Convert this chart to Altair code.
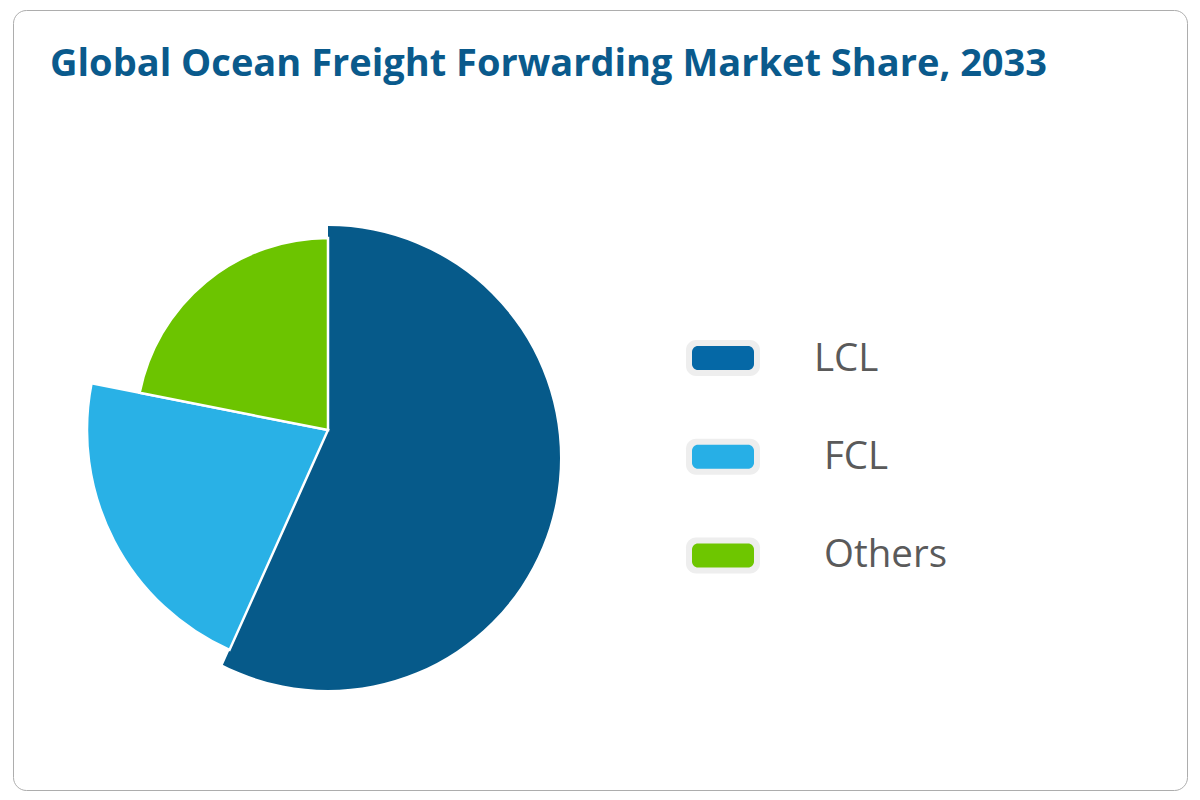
import math

import altair as alt
import pandas as pd

# ---------------------------------------------------------------------------
# Data
# ---------------------------------------------------------------------------

title_text = "Global Ocean Freight Forwarding Market Share, 2033"
categories = ["LCL", "FCL", "Others"]
shares = [56.7, 21.4, 21.9]

# ---------------------------------------------------------------------------
# Styling
# ---------------------------------------------------------------------------

FONT = "Open Sans"
pie_colors = ["#065a8a", "#29b1e6", "#6cc400"]
swatch_colors = ["#0568a6", "#27afe6", "#6ec600"]

W, H = 1174, 780
CX, CY = 315, 420   # pie centre
LCL_DROP = 28       # the LCL rim is a circle centred a little lower
LCL_RIM = 232

df = pd.DataFrame(
    {"category": categories, "share": shares, "order": list(range(len(categories)))}
)
legend_df = pd.DataFrame({"category": categories})
title_df = pd.DataFrame({"title": [title_text]})

base = (
    alt.Chart(df)
    .transform_window(end="sum(share)", sort=[{"field": "order"}], frame=[None, 0])
    .transform_calculate(start="datum.end - datum.share")
)

theta_scale = alt.Scale(domain=[0, 100], range=[0, 2 * math.pi])
pie_color = alt.Color(
    "category:N", scale=alt.Scale(domain=categories, range=pie_colors), legend=None
)


def wedge(name, radius, **style):
    return (
        base.transform_filter(alt.datum.category == name)
        .mark_arc(radius=radius, **style)
        .encode(
            theta=alt.Theta("start:Q", scale=theta_scale),
            theta2="end:Q",
            color=pie_color,
            x=alt.value(CX),
            y=alt.value(CY),
        )
    )


lcl = wedge("LCL", 262)

# white ring that trims the LCL wedge to its lowered rim
rim_mask = (
    base.transform_filter(alt.datum.category == "LCL")
    .mark_arc(color="white", radius=LCL_RIM + 70, radius2=LCL_RIM, theta=0, theta2=2 * math.pi)
    .encode(x=alt.value(CX), y=alt.value(CY + LCL_DROP))
)

sep = {"stroke": "white", "strokeWidth": 2.5}
fcl = wedge("FCL", 241, **sep)
others = wedge("Others", 192, **sep)

# ---------------------------------------------------------------------------
# Legend
# ---------------------------------------------------------------------------

swatch_color = alt.Color(
    "category:N", scale=alt.Scale(domain=categories, range=swatch_colors), legend=None
)

swatch_outer = (
    alt.Chart(legend_df)
    .mark_rect(color="#eeeeee", cornerRadius=10)
    .encode(
        x=alt.value(673),
        x2=alt.value(747),
        y=alt.Y(
            "category:N",
            axis=None,
            scale=alt.Scale(
                type="band", domain=categories, range=[330, 563.5],
                paddingInner=0.635, paddingOuter=0,
            ),
        ),
    )
)

swatch_inner = (
    alt.Chart(legend_df)
    .mark_rect(cornerRadius=6)
    .encode(
        x=alt.value(679),
        x2=alt.value(741),
        y=alt.Y(
            "category:N",
            axis=None,
            scale=alt.Scale(
                type="band", domain=categories, range=[336, 557.5],
                paddingInner=0.757, paddingOuter=0,
            ),
        ),
        color=swatch_color,
    )
)

label_y = alt.Y(
    "category:N",
    axis=None,
    scale=alt.Scale(type="point", domain=categories, range=[360.7, 557], padding=0),
)


def legend_labels(names, x):
    # the source indents FCL and Others by one space
    return (
        alt.Chart(legend_df)
        .transform_filter(alt.FieldOneOfPredicate(field="category", oneOf=names))
        .mark_text(font=FONT, fontSize=38.5, color="#5a5a5a", align="left", baseline="alphabetic")
        .encode(x=alt.value(x), y=label_y, text="category:N")
    )


labels_lcl = legend_labels(["LCL"], 801)
labels_rest = legend_labels(["FCL", "Others"], 811)

title = (
    alt.Chart(title_df)
    .mark_text(
        font=FONT, fontSize=38, fontWeight="bold", color="#0a5a8c",
        align="left", baseline="alphabetic",
    )
    .encode(x=alt.value(37), y=alt.value(65.5), text="title:N")
)

chart = (
    alt.layer(
        lcl, rim_mask, fcl, others,
        swatch_outer, swatch_inner, labels_lcl, labels_rest, title,
    )
    .resolve_scale(color="independent", y="independent")
    .properties(
        width=W,
        height=H,
        padding={"left": 5, "top": 2, "right": 5, "bottom": 2},
        autosize=alt.AutoSizeParams(type="none"),
        background="white",
    )
    .configure_view(stroke="#adadad", strokeWidth=1, cornerRadius=13)
)

chart.save("out.html", embed_options={"renderer": "svg", "actions": False})
